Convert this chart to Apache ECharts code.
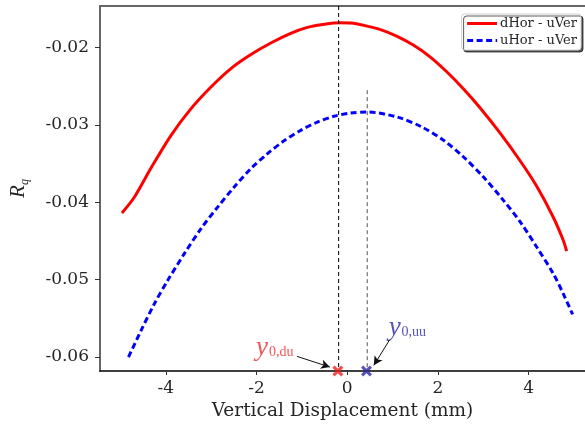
<!DOCTYPE html>
<html>
<head>
<meta charset="utf-8">
<script src="https://cdn.jsdelivr.net/npm/echarts@6/dist/echarts.min.js"></script>
<style>
html, body { margin: 0; padding: 0; background: #fff; }
#chart { width: 585px; height: 434px; }
</style>
</head>
<body>
<div id="chart"></div>
<script>
// dHor - uVer (red solid)
var xRed = [-4.967, -4.690, -4.323, -3.884, -3.444, -3.004, -2.565, -2.125, -1.686, -1.246, -0.879, -0.500, -0.150, 0.073, 0.365, 0.732, 1.099, 1.464, 1.831, 2.198, 2.563, 2.930, 3.370, 3.809, 4.176, 4.541, 4.760, 4.835];
var yRed = [-0.04138, -0.03931, -0.03554, -0.03134, -0.02789, -0.02509, -0.02271, -0.02090, -0.01940, -0.01815, -0.01738, -0.01697, -0.01678, -0.01682, -0.01712, -0.01767, -0.01854, -0.01970, -0.02122, -0.02315, -0.02534, -0.02780, -0.03106, -0.03462, -0.03792, -0.04193, -0.04490, -0.04630];
// uHor - uVer (blue dashed)
var xBlue = [-4.822, -4.543, -4.251, -3.956, -3.591, -3.224, -2.857, -2.492, -2.125, -1.758, -1.393, -1.026, -0.659, -0.295, 0.073, 0.440, 1.099, 1.648, 2.123, 2.563, 3.002, 3.442, 3.809, 4.176, 4.541, 4.760, 4.967];
var yBlue = [-0.06000, -0.05655, -0.05310, -0.05008, -0.04663, -0.04340, -0.04061, -0.03802, -0.03564, -0.03370, -0.03205, -0.03069, -0.02962, -0.02888, -0.02846, -0.02833, -0.02897, -0.03027, -0.03198, -0.03414, -0.03673, -0.03974, -0.04250, -0.04578, -0.04922, -0.05180, -0.05448];

var seriesNames = ['dHor - uVer', 'uHor - uVer'];
var xTicks = [-4, -2, 0, 2, 4];
var yTicks = [-0.06, -0.05, -0.04, -0.03, -0.02];
var xRange = [-5.45, 5.24];
var yRange = [-0.0618, -0.01462];

// peak positions y0
var y0du = -0.19, y0uu = 0.44;
var y0duMark = -0.207, y0uuMark = 0.424;
var y0uuLineTop = -0.0255;
// annotation labels and arrows [x, y]
var labelDu = [-1.6, -0.0589], labelUu = [1.325, -0.05631];
var arrowDu = [[-1.109, -0.05991], [-0.382, -0.06129]];
var arrowUu = [[0.936, -0.05775], [0.585, -0.06107]];

function pairs(xs, ys) {
	return xs.map(function (x, i) { return [x, ys[i]]; });
}

var serif = 'DejaVu Serif';
var crossPath = 'path://M2,0 L5,3 L8,0 L10,2 L7,5 L10,8 L8,10 L5,7 L2,10 L0,8 L3,5 L0,2 Z';

function subLabel(sub, color) {
	return {
		show: true,
		position: 'inside',
		formatter: '{y|y}{s|' + sub + '}',
		rich: {
			y: { fontFamily: 'Liberation Serif', fontStyle: 'italic', fontSize: 27, color: color, lineHeight: 26, verticalAlign: 'bottom' },
			s: { fontFamily: 'Liberation Serif', fontSize: 14, color: color, lineHeight: 14, verticalAlign: 'bottom', padding: [0, 0, 2, 1] }
		}
	};
}

var chart = echarts.init(document.getElementById('chart'));
var option = {
	animation: false,
	grid: { left: 99, right: 0, top: 6, bottom: 63, containLabel: false },
	legend: {
		right: 4, top: 14,
		orient: 'vertical',
		data: seriesNames,
		itemWidth: 30, itemHeight: 12, itemGap: 4,
		padding: [3, 4, 3, 4],
		backgroundColor: '#fff',
		borderColor: '#cfcfcf', borderWidth: 1, borderRadius: 3,
		shadowColor: 'rgba(0,0,0,0.65)', shadowOffsetX: 2, shadowOffsetY: 2, shadowBlur: 0,
		itemStyle: { opacity: 0 },
		lineStyle: { width: 3 },
		textStyle: { fontFamily: serif, fontSize: 13, color: '#262626', padding: [0, 0, 0, -2] }
	},
	xAxis: [{
		type: 'value', min: xRange[0], max: xRange[1],
		name: 'Vertical Displacement (mm)', nameLocation: 'middle', nameGap: 30,
		nameTextStyle: { fontFamily: serif, fontSize: 18.5, color: '#262626' },
		axisLine: { onZero: false, lineStyle: { color: '#000', width: 1.5 } },
		axisTick: { show: true, length: 4, lineStyle: { color: '#333' }, customValues: xTicks },
		axisLabel: { fontFamily: serif, fontSize: 17, color: '#262626', margin: 9, customValues: xTicks },
		splitLine: { show: false }
	}, {
		type: 'value', position: 'top', min: xRange[0], max: xRange[1],
		axisLine: { show: true, onZero: false, lineStyle: { color: '#666', width: 2 } },
		axisTick: { show: false }, axisLabel: { show: false }, splitLine: { show: false }
	}],
	yAxis: {
		type: 'value', min: yRange[0], max: yRange[1],
		name: '{r|R}{q|q}', nameLocation: 'middle', nameGap: 71, nameRotate: 90,
		nameTextStyle: {
			rich: {
				r: { fontFamily: 'Liberation Serif', fontStyle: 'italic', fontSize: 21, color: '#262626', verticalAlign: 'bottom', lineHeight: 20 },
				q: { fontFamily: 'Liberation Serif', fontStyle: 'italic', fontSize: 12, color: '#262626', verticalAlign: 'bottom', lineHeight: 12, padding: [0, 0, -2, 0] }
			}
		},
		axisLine: { show: true, onZero: false, lineStyle: { color: '#666', width: 2 } },
		axisTick: { show: true, length: 5, lineStyle: { color: '#333' }, customValues: yTicks },
		axisLabel: {
			fontFamily: serif, fontSize: 17, color: '#262626', margin: 11, customValues: yTicks,
			formatter: function (v) { return v.toFixed(2); }
		},
		splitLine: { show: false }
	},
	series: [{
		name: seriesNames[0], type: 'line', data: pairs(xRed, yRed),
		symbol: 'none', smooth: 0.3, color: '#ff0000',
		lineStyle: { color: '#ff0000', width: 3 }
	}, {
		name: seriesNames[1], type: 'line', data: pairs(xBlue, yBlue),
		symbol: 'none', smooth: 0.3, color: '#0000ff',
		lineStyle: { color: '#0000ff', width: 3, type: [6, 3.5] }
	}, {
		name: 'y0du line', type: 'line', data: [[y0du, yRange[1]], [y0du, yRange[0]]],
		symbol: 'none', silent: true,
		lineStyle: { color: '#000', width: 1, type: [4, 3] }
	}, {
		name: 'y0uu line', type: 'line', data: [[y0uu, y0uuLineTop], [y0uu, yRange[0]]],
		symbol: 'none', silent: true,
		lineStyle: { color: '#555', width: 1, type: [4, 3] }
	}, {
		name: 'arrows', type: 'line', data: [], symbol: 'none',
		markLine: {
			silent: true, symbol: ['none', 'arrow'], symbolSize: [7, 9],
			lineStyle: { color: '#111', width: 1, type: 'solid' },
			label: { show: false },
			data: [
				[{ coord: arrowDu[0] }, { coord: arrowDu[1] }],
				[{ coord: arrowUu[0] }, { coord: arrowUu[1] }]
			]
		}
	}, {
		name: 'marks', type: 'scatter', clip: false, z: 5,
		symbol: crossPath, symbolSize: 11,
		data: [
			{ value: [y0duMark, yRange[0]], itemStyle: { color: '#ee2020' } },
			{ value: [y0uuMark, yRange[0]], itemStyle: { color: '#2a2aa0' } }
		]
	}, {
		name: 'labels', type: 'scatter', clip: false, symbolSize: 0,
		data: [
			{ value: labelDu, label: subLabel('0,du', '#ee2a2a') },
			{ value: labelUu, label: subLabel('0,uu', '#2a2aa0') }
		]
	}]
};
chart.setOption(option);
window.addEventListener('resize', function () {
	chart.resize();
});
</script>
</body>
</html>
